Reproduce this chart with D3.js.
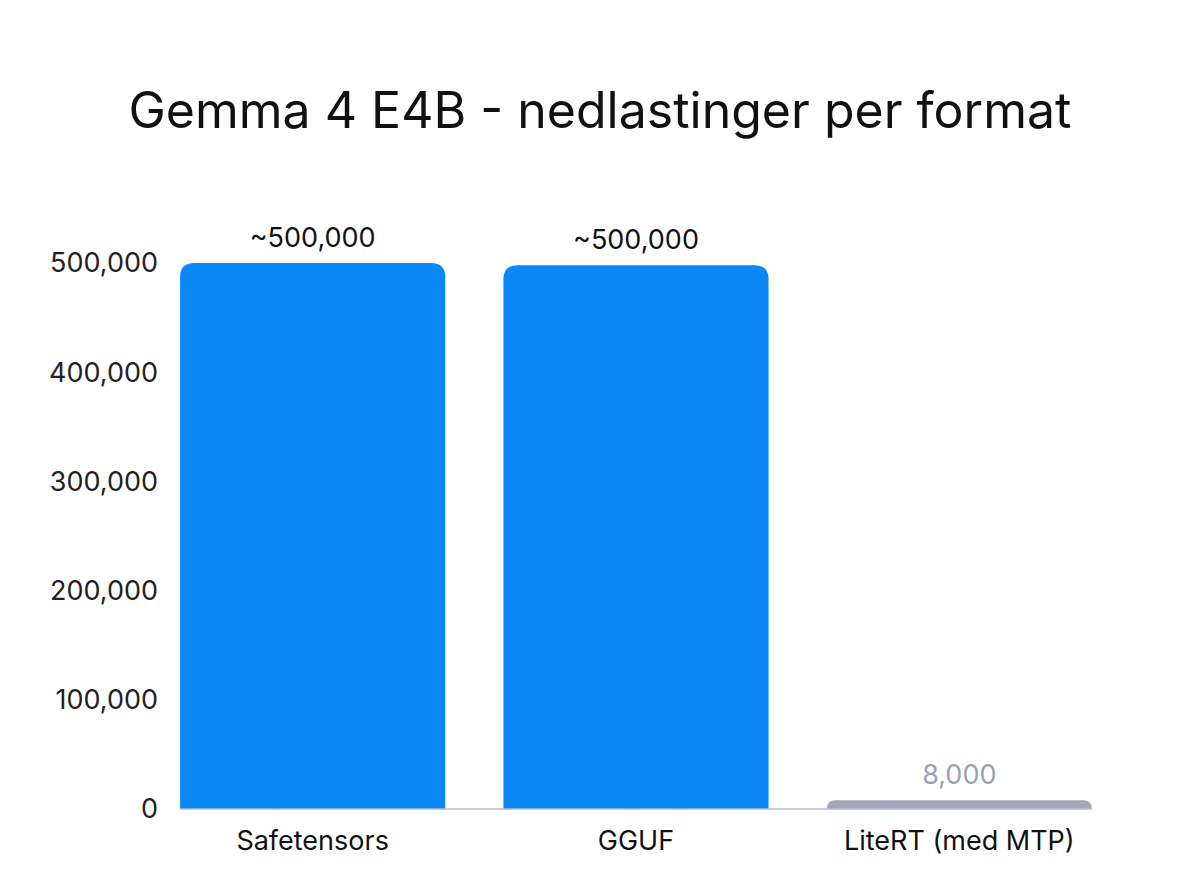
<!DOCTYPE html>
<html><head><meta charset="utf-8">
<script src="https://cdn.jsdelivr.net/npm/d3@7"></script>
<style>body{margin:0;background:#fff}</style></head>
<body><svg id="c" width="1200" height="896"></svg>
<script>
const categories = ["Safetensors", "GGUF", "LiteRT (med MTP)"];
const values = [500000, 498000, 8000];
const valueLabels = ["~500,000", "~500,000", "8,000"];
const yTicks = [0, 100000, 200000, 300000, 400000, 500000];
const colors = ["#0a88f7", "#0a88f7", "#a2a8bc"];
const labelColors = ["#111", "#111", "#9ba1b3"];

const svg = d3.select("#c");
const font = "Inter, 'Noto Sans', sans-serif";
svg.append("text").attr("x", 600).attr("y", 128).attr("text-anchor", "middle")
  .attr("font-family", font).attr("font-size", 50).attr("fill", "#111")
  .text("Gemma 4 E4B - nedlastinger per format");

const x = d3.scaleBand().domain(categories).range([151, 1121]).paddingInner(0.18).paddingOuter(0.09);
const y = d3.scaleLinear().domain([0, 500000]).range([809, 263]);

svg.append("g").selectAll("text").data(yTicks).join("text")
  .attr("x", 158).attr("y", d => y(d)).attr("dy", "0.35em").attr("text-anchor", "end")
  .attr("font-family", font).attr("font-size", 27).attr("fill", "#222")
  .text(d => d3.format(",")(d));

const r = 14;
svg.append("g").selectAll("path").data(values).join("path")
  .attr("fill", (d, i) => colors[i])
  .attr("d", (d, i) => {
    const x0 = x(categories[i]), w = x.bandwidth(), yt = y(d), yb = y(0);
    const rr = Math.min(r, (yb - yt));
    return `M${x0},${yb}L${x0},${yt + rr}Q${x0},${yt} ${x0 + rr},${yt}L${x0 + w - rr},${yt}Q${x0 + w},${yt} ${x0 + w},${yt + rr}L${x0 + w},${yb}Z`;
  });

svg.append("line").attr("x1", 180).attr("x2", 1092).attr("y1", y(0)).attr("y2", y(0))
  .attr("stroke", "#b8bccb").attr("stroke-width", 1.5);

svg.append("g").selectAll("text").data(values).join("text")
  .attr("x", (d, i) => x(categories[i]) + x.bandwidth() / 2).attr("y", d => y(d) - 16)
  .attr("text-anchor", "middle").attr("font-family", font).attr("font-size", 27)
  .attr("fill", (d, i) => labelColors[i]).text((d, i) => valueLabels[i]);

svg.append("g").selectAll("text").data(categories).join("text")
  .attr("x", d => x(d) + x.bandwidth() / 2).attr("y", 850)
  .attr("text-anchor", "middle").attr("font-family", font).attr("font-size", 27)
  .attr("fill", "#111").text(d => d);
</script></body></html>
